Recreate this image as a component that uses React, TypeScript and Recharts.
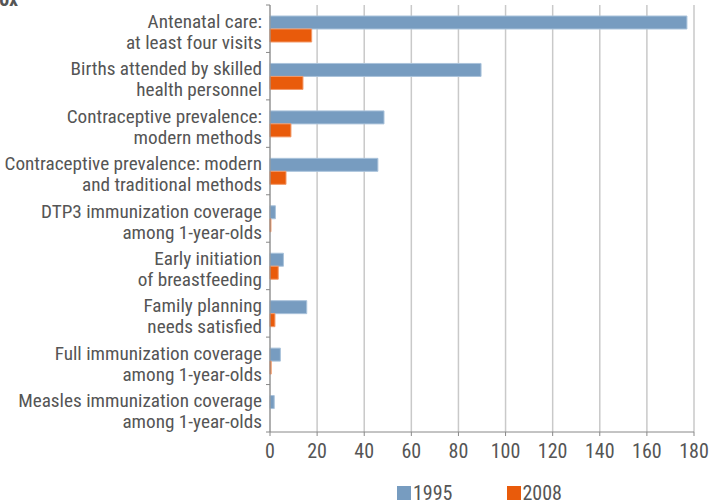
import React from 'react'
import { BarChart, Bar, XAxis, YAxis, CartesianGrid, Legend } from 'recharts'

const categories = [
  'Antenatal care:\nat least four visits',
  'Births attended by skilled\nhealth personnel',
  'Contraceptive prevalence:\nmodern methods',
  'Contraceptive prevalence: modern\nand traditional methods',
  'DTP3 immunization coverage\namong 1-year-olds',
  'Early initiation\nof breastfeeding',
  'Family planning\nneeds satisfied',
  'Full immunization coverage\namong 1-year-olds',
  'Measles immunization coverage\namong 1-year-olds',
]

const values1995 = [177, 89.6, 48.4, 45.8, 2.3, 5.7, 15.6, 4.4, 1.8]
const values2008 = [17.7, 14.0, 8.9, 6.8, 0.4, 3.5, 2.1, 0.5, 0]

const xTicks = [0, 20, 40, 60, 80, 100, 120, 140, 160, 180]

const FONT = "'Liberation Sans Narrow', 'Roboto Condensed', 'DejaVu Sans Condensed', sans-serif"
const TEXT = '#555555'
const BLUE = '#779cc0'
const ORANGE = '#e95b0b'

const W = 709
const H = 504
const MARGIN = { top: 5, right: 15, left: 0, bottom: 0 }
const Y_WIDTH = 270
const X_HEIGHT = 49
const LEGEND_H = 23
const PLOT_H = H - MARGIN.top - MARGIN.bottom - X_HEIGHT - LEGEND_H

const chartData = categories.map((name, i) => ({
  name,
  y1995: values1995[i],
  y2008: values2008[i],
}))

// category label in two lines + tick marks on the band boundaries
function CategoryTick(props: any) {
  const { x, y, payload, index } = props
  const band = PLOT_H / categories.length
  const axisX = x + 8
  const lines = String(payload.value).split('\n')
  return (
    <g>
      <line x1={axisX - 4} x2={axisX} y1={y + band / 2} y2={y + band / 2} stroke="#888" />
      {index === 0 && (
        <line x1={axisX - 4} x2={axisX} y1={y - band / 2} y2={y - band / 2} stroke="#888" />
      )}
      {lines.map((l, i) => (
        <text
          key={i}
          x={x}
          y={y + (i === 0 ? -1 : 20)}
          textAnchor="end"
          fill={TEXT}
          fontSize={19.2}
          fontFamily={FONT}
        >
          {l}
        </text>
      ))}
    </g>
  )
}

function LegendContent() {
  const item = (color: string, label: string, ml: number) => (
    <div style={{ display: 'flex', alignItems: 'center', marginLeft: ml }}>
      <span style={{ width: 14, height: 14, background: color, display: 'inline-block', marginRight: 2 }} />
      <span style={{ fontSize: 20, color: TEXT, fontFamily: FONT, lineHeight: '20px' }}>{label}</span>
    </div>
  )
  return (
    <div style={{ display: 'flex', alignItems: 'center', height: LEGEND_H }}>
      {item(BLUE, '1995', 397)}
      {item(ORANGE, '2008', 54)}
    </div>
  )
}

export default function App() {
  return (
    <div style={{ position: 'fixed', left: 0, top: 0, width: W, height: H, background: '#fff', overflow: 'hidden' }}>
      <span style={{ position: 'absolute', left: -12, top: -13, fontFamily: FONT, fontWeight: 'bold', fontSize: 20, color: TEXT }}>
        Box
      </span>
      <BarChart width={W} height={H} data={chartData} layout="vertical" margin={MARGIN} barGap={0} barSize={13}>
        <CartesianGrid horizontal={false} stroke="#c9c9c9" strokeWidth={1.5} />
        <XAxis
          type="number"
          domain={[0, 180]}
          ticks={xTicks}
          height={X_HEIGHT}
          axisLine={{ stroke: '#888' }}
          tickLine={{ stroke: '#888' }}
          tickSize={4}
          tickMargin={8}
          tick={{ fill: TEXT, fontSize: 20, fontFamily: FONT }}
        />
        <YAxis
          type="category"
          dataKey="name"
          width={Y_WIDTH}
          axisLine={{ stroke: '#888' }}
          tickLine={false}
          tick={<CategoryTick />}
          interval={0}
        />
        <Legend verticalAlign="bottom" wrapperStyle={{ left: 0, width: W }} content={<LegendContent />} />
        <Bar dataKey="y1995" fill={BLUE} stroke="#aac3db" strokeWidth={1} isAnimationActive={false} />
        <Bar dataKey="y2008" fill={ORANGE} stroke="#f29a6a" strokeWidth={1} isAnimationActive={false} />
      </BarChart>
    </div>
  )
}
